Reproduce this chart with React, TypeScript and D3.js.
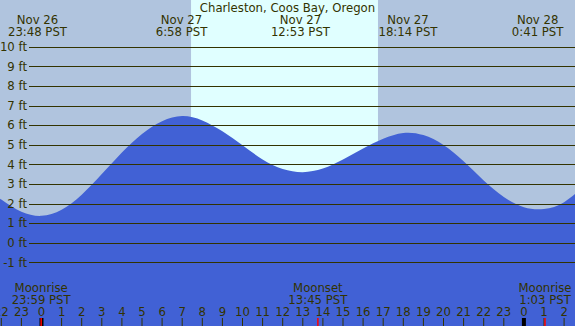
import React from "react";
import * as d3 from "d3";

const title = "Charleston, Coos Bay, Oregon";

// hours relative to Nov 27 00:00 PST, tide height in ft
const tideHours = [-3, -2, -1, 0, 1, 2, 3, 4, 5, 6, 7, 8, 9, 10, 11, 12, 13, 14, 15, 16, 17, 18, 19, 20, 21, 22, 23, 24, 25, 26, 27];
const tideFeet = [3.0, 2.2, 1.58, 1.37, 1.68, 2.45, 3.5, 4.6, 5.55, 6.2, 6.46, 6.24, 5.68, 4.97, 4.25, 3.76, 3.6, 3.78, 4.24, 4.8, 5.3, 5.6, 5.49, 4.98, 4.15, 3.17, 2.33, 1.81, 1.72, 2.07, 2.9];

// tide extremes (top labels)
const extremeHours = [-0.2, 6.967, 12.883, 18.233, 24.683];
const extremeDays = ["Nov 26", "Nov 27", "Nov 27", "Nov 27", "Nov 28"];
const extremeTimes = ["23:48 PST", "6:58 PST", "12:53 PST", "18:14 PST", "0:41 PST"];

// moon events (bottom labels)
const moonHours = [-0.017, 13.75, 25.05];
const moonNames = ["Moonrise", "Moonset", "Moonrise"];
const moonTimes = ["23:59 PST", "13:45 PST", "1:03 PST"];

// daylight
const sunrise = 7.44;
const sunset = 16.74;

const feetTicks = [10, 9, 8, 7, 6, 5, 4, 3, 2, 1, 0, -1];
const hourTicks = d3.range(-2, 27);
const midnights = [0, 24];

const W = 575;
const H = 326;
const FONT = "'DejaVu Sans', sans-serif";
const FS = 11.7;
const INK = "#333300";

export default function App() {
  const x = d3.scaleLinear().domain([0, 24]).range([41.5, 523.9]);
  const y = d3.scaleLinear().domain([-1, 10]).range([262.3, 46.7]);

  const area = d3
    .area<number>()
    .x((_, i) => x(tideHours[i]))
    .y0(H)
    .y1((d) => y(d))
    .curve(d3.curveNatural);

  return (
    <svg
      width={W}
      height={H}
      style={{ position: "absolute", left: 0, top: 0, display: "block" }}
      fontFamily={FONT}
      fontSize={FS}
    >
      <rect x={0} y={0} width={W} height={H} fill="#b0c4de" />
      <rect x={x(sunrise)} y={0} width={x(sunset) - x(sunrise)} height={H} fill="#e0ffff" />
      <path d={area(tideFeet) || ""} fill="#4161d5" />

      {feetTicks.map((f) => (
        <g key={f}>
          <line x1={29} x2={W} y1={Math.round(y(f)) + 0.5} y2={Math.round(y(f)) + 0.5} stroke={INK} strokeWidth={1.2} />
          <text x={27} y={y(f) + 4.3} textAnchor="end" fill={INK}>
            {`${f} ft`}
          </text>
        </g>
      ))}

      <text x={287.5} y={12} textAnchor="middle" fill={INK}>
        {title}
      </text>

      {extremeHours.map((h, i) => (
        <g key={i}>
          <text x={x(h)} y={23.5} textAnchor="middle" fill={INK}>
            {extremeDays[i]}
          </text>
          <text x={x(h)} y={36} textAnchor="middle" fill={INK}>
            {extremeTimes[i]}
          </text>
        </g>
      ))}

      {moonHours.map((h, i) => (
        <g key={i}>
          <text x={x(h)} y={292} textAnchor="middle" fill={INK}>
            {moonNames[i]}
          </text>
          <text x={x(h)} y={304} textAnchor="middle" fill={INK}>
            {moonTimes[i]}
          </text>
        </g>
      ))}

      {hourTicks.map((h) => (
        <g key={h}>
          <text x={x(h)} y={316} textAnchor="middle" fill={INK}>
            {String(((h % 24) + 24) % 24)}
          </text>
          <line x1={x(h)} x2={x(h)} y1={318} y2={H} stroke={INK} strokeWidth={1} />
        </g>
      ))}

      {midnights.map((h) => (
        <rect key={h} x={x(h) - 2} y={318} width={4} height={H - 318} fill="#000000" />
      ))}

      {moonHours.map((h, i) => (
        <line key={i} x1={x(h)} x2={x(h)} y1={318} y2={H} stroke="#ff0000" strokeWidth={1.5} />
      ))}
    </svg>
  );
}
